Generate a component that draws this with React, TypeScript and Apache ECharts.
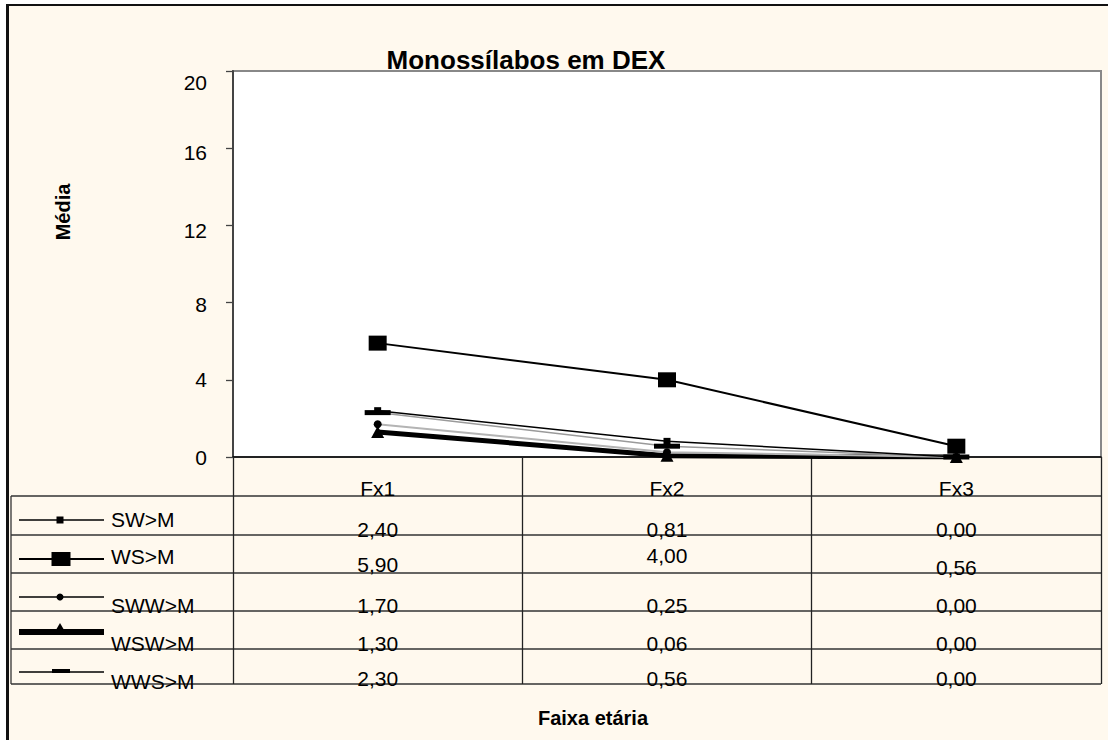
import React, { useEffect, useRef } from 'react';
import * as echarts from 'echarts';

// ---- data ----
const categories = ['Fx1', 'Fx2', 'Fx3'];
const seriesNames = ['SW>M', 'WS>M', 'SWW>M', 'WSW>M', 'WWS>M'];
const swM = [2.4, 0.81, 0.0];
const wsM = [5.9, 4.0, 0.56];
const swwM = [1.7, 0.25, 0.0];
const wswM = [1.3, 0.06, 0.0];
const wwsM = [2.3, 0.56, 0.0];
const yMin = 0;
const yMax = 20;
const yStep = 4;
const chartTitle = 'Monossílabos em DEX';
const yTitle = 'Média';
const xTitle = 'Faixa etária';

const seriesValues = [swM, wsM, swwM, wswM, wwsM];

const FONT = '"Liberation Sans", Arial, sans-serif';
const FS = 21;

// ---- layout ----
const GL = 233, GT = 71, GR = 1101, GB = 457;
const TABLE_LEFT = 11;
const HEADER_BOTTOM = 496;
const ROW_BOTTOMS = [535, 573, 611, 649, 684];
const CELL_DY: Record<string, number> = { '1-0': -3, '1-1': -12 };
const Y_LABEL_DY: Record<number, number> = { 20: 11, 16: 4, 12: 5, 8: 2 };

const seriesStyles = [
  { symbol: 'rect', size: 7, lineColor: '#000', lineWidth: 1.5, z: 5 },
  { symbol: 'rect', size: [18, 15], lineColor: '#000', lineWidth: 2, z: 6 },
  { symbol: 'circle', size: 8, lineColor: '#b4b4b4', lineWidth: 2, z: 3 },
  { symbol: 'triangle', size: [13, 12], lineColor: '#000', lineWidth: 5, z: 2 },
  { symbol: 'rect', size: [26, 5], lineColor: '#9a9a9a', lineWidth: 1.5, z: 4 },
];

const legendLayout = [
  { lineY: 520, lineW: 1.3, textBase: 526 },
  { lineY: 559, lineW: 2, textBase: 563 },
  { lineY: 597, lineW: 1.3, textBase: 612 },
  { lineY: 632, lineW: 6, textBase: 650 },
  { lineY: 672, lineW: 1.3, textBase: 688 },
];

function fmt(v: number) {
  return v.toFixed(2).replace('.', ',');
}

function legendMarker(i: number, cy: number): any {
  const cx = 60;
  switch (i) {
    case 0:
      return { type: 'rect', shape: { x: cx - 3.5, y: cy - 3.5, width: 7, height: 7 }, style: { fill: '#000' } };
    case 1:
      return { type: 'rect', shape: { x: cx - 8.5, y: cy - 7, width: 19, height: 14 }, style: { fill: '#000' } };
    case 2:
      return { type: 'circle', shape: { cx, cy, r: 3.5 }, style: { fill: '#000' } };
    case 3:
      return { type: 'polygon', shape: { points: [[cx, cy - 9], [cx - 7, cy + 3], [cx + 7, cy + 3]] }, style: { fill: '#000' } };
    default:
      return { type: 'rect', shape: { x: cx - 8, y: cy - 3, width: 18, height: 4 }, style: { fill: '#000' } };
  }
}

export default function App() {
  const ref = useRef<HTMLDivElement>(null);

  useEffect(() => {
    if (!ref.current) return;
    const chart = echarts.init(ref.current, null, { renderer: 'svg' });

    const series = seriesNames.map((name, i) => {
      const s = seriesStyles[i];
      return {
        name,
        type: 'line',
        data: seriesValues[i],
        symbol: s.symbol,
        symbolSize: s.size,
        showSymbol: true,
        z: s.z,
        itemStyle: { color: '#000' },
        lineStyle: { color: s.lineColor, width: s.lineWidth },
        emphasis: { disabled: true },
      };
    });

    chart.setOption({
      animation: false,
      backgroundColor: 'transparent',
      textStyle: { fontFamily: FONT },
      grid: {
        left: GL,
        top: GT,
        right: 1108 - GR,
        bottom: 740 - GB,
        show: true,
        backgroundColor: '#ffffff',
        borderColor: '#888888',
        borderWidth: 2,
      },
      xAxis: {
        type: 'category',
        data: categories,
        boundaryGap: true,
        axisLine: { show: true, lineStyle: { color: '#000', width: 1.5 } },
        axisTick: { show: true, length: ROW_BOTTOMS[ROW_BOTTOMS.length - 1] - GB, lineStyle: { color: '#222', width: 1.3 } },
        axisLabel: { fontSize: FS, color: '#000', margin: 21, fontFamily: FONT },
        splitLine: { show: false },
      },
      yAxis: {
        type: 'value',
        min: yMin,
        max: yMax,
        interval: yStep,
        axisLine: { show: true, lineStyle: { color: '#444', width: 2 } },
        axisTick: { show: true, length: 7, lineStyle: { color: '#444', width: 1.3 } },
        splitLine: { show: false },
        axisLabel: {
          fontSize: FS,
          color: '#000',
          margin: 26,
          fontFamily: FONT,
          formatter: (v: number) => {
            const dy = Y_LABEL_DY[v];
            return dy ? `{d${dy}|${v}}` : `${v}`;
          },
          rich: Object.fromEntries(
            Object.values(Y_LABEL_DY).map((dy) => [
              `d${dy}`,
              { fontSize: FS, color: '#000', fontFamily: FONT, padding: [dy * 2, 0, 0, 0] },
            ])
          ),
        },
      },
      series,
    });

    const centers = categories.map((_, j) => chart.convertToPixel({ xAxisIndex: 0 }, j) as number);

    const graphics: any[] = [];
    // table lines
    const lineStyle = { stroke: '#333', lineWidth: 1.3 };
    [HEADER_BOTTOM, ...ROW_BOTTOMS].forEach((y) => {
      graphics.push({ type: 'line', shape: { x1: TABLE_LEFT, y1: y, x2: GR, y2: y }, style: lineStyle, silent: true });
    });
    graphics.push({
      type: 'line',
      shape: { x1: TABLE_LEFT, y1: HEADER_BOTTOM, x2: TABLE_LEFT, y2: ROW_BOTTOMS[ROW_BOTTOMS.length - 1] },
      style: lineStyle,
    });

    // legend + values
    seriesNames.forEach((name, i) => {
      const L = legendLayout[i];
      graphics.push({ type: 'line', shape: { x1: 19, y1: L.lineY, x2: 104, y2: L.lineY }, style: { stroke: '#000', lineWidth: L.lineW } });
      graphics.push(legendMarker(i, L.lineY));
      graphics.push({
        type: 'text',
        x: 111,
        y: L.textBase - 7,
        style: { text: name, fontSize: FS, fontFamily: FONT, fill: '#000', align: 'left', verticalAlign: 'middle' },
      });
      seriesValues[i].forEach((v, j) => {
        const dy = CELL_DY[`${i}-${j}`] || 0;
        graphics.push({
          type: 'text',
          x: centers[j],
          y: ROW_BOTTOMS[i] + dy - 6,
          style: { text: fmt(v), fontSize: FS, fontFamily: FONT, fill: '#000', align: 'center', verticalAlign: 'middle' },
        });
      });
    });

    // titles
    graphics.push({
      type: 'text',
      x: 526,
      y: 60,
      style: { text: chartTitle, fontSize: 26, fontWeight: 'bold', fontFamily: FONT, fill: '#000', align: 'center', verticalAlign: 'middle' },
    });
    graphics.push({
      type: 'text',
      x: 63,
      y: 212,
      rotation: Math.PI / 2,
      style: { text: yTitle, fontSize: 20, fontWeight: 'bold', fontFamily: FONT, fill: '#000', align: 'center', verticalAlign: 'middle' },
    });
    graphics.push({
      type: 'text',
      x: 593,
      y: 718,
      style: { text: xTitle, fontSize: 20, fontWeight: 'bold', fontFamily: FONT, fill: '#000', align: 'center', verticalAlign: 'middle' },
    });

    chart.setOption({ graphic: graphics });

    return () => chart.dispose();
  }, []);

  return (
    <div style={{ position: 'absolute', left: 0, top: 0, width: 1108, height: 740, overflow: 'hidden' }}>
      <div
        style={{
          position: 'absolute',
          left: 6,
          top: 4,
          width: 1150,
          height: 800,
          background: '#FFF9EE',
          borderLeft: '3px solid #111',
          borderTop: '2px solid #111',
        }}
      />
      <div ref={ref} style={{ position: 'absolute', left: 0, top: 0, width: 1108, height: 740 }} />
    </div>
  );
}
